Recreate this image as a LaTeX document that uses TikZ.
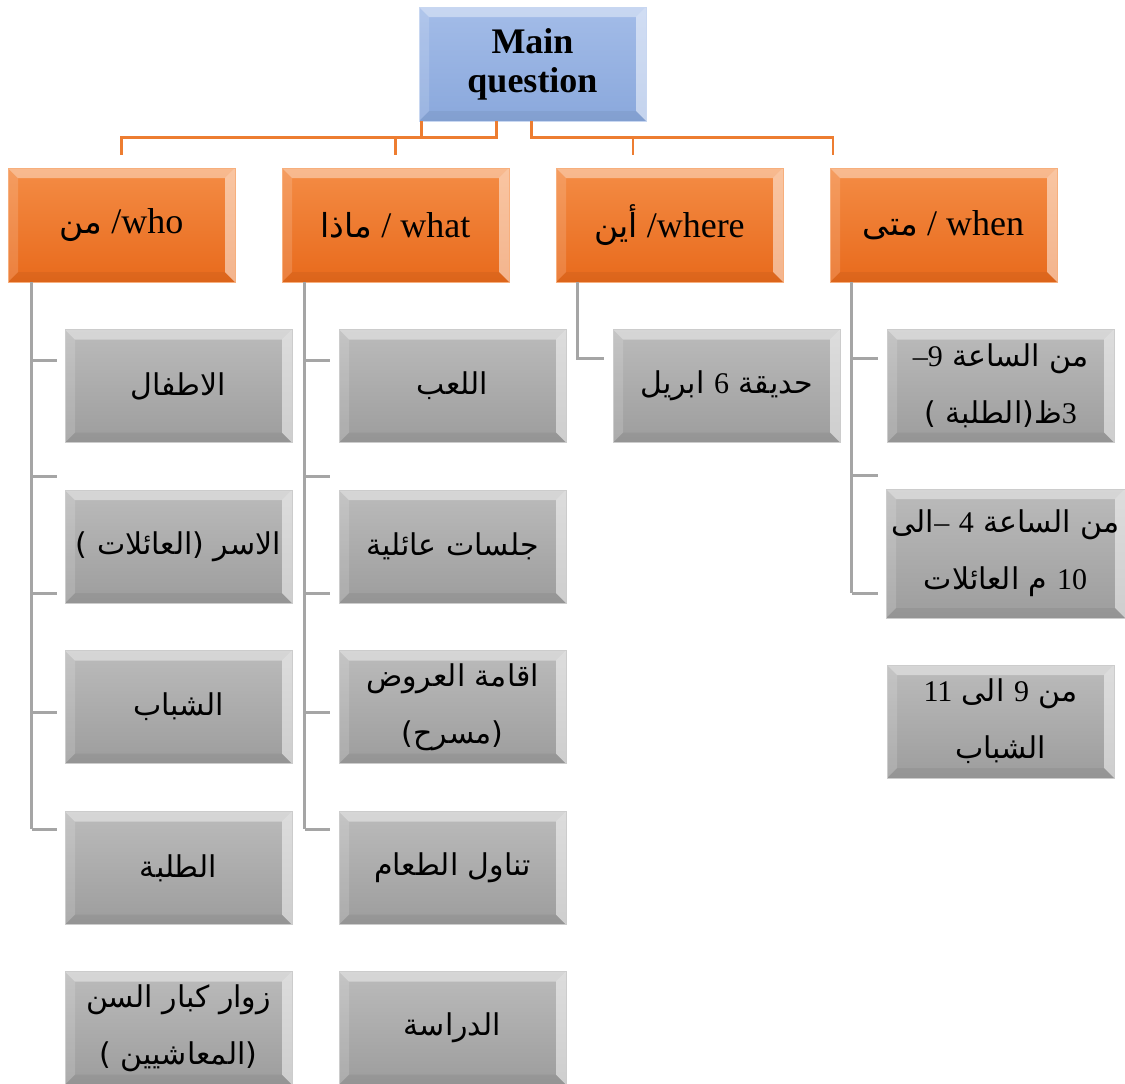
\documentclass[tikz,border=0pt]{standalone}
\usepackage{fontspec}
\setmainfont{Liberation Serif}
\newfontfamily\arfont[Script=Arabic]{DejaVu Sans}
\TeXXeTstate=1
\usetikzlibrary{positioning}

\definecolor{mainhi}{HTML}{A3BCE8}
\definecolor{mainlo}{HTML}{8AA8DC}
\definecolor{orghi}{HTML}{F48C45}
\definecolor{orglo}{HTML}{E86A1C}
\definecolor{grayhi}{HTML}{BBBBBB}
\definecolor{graylo}{HTML}{9D9D9D}
\definecolor{oline}{HTML}{ED7D31}
\definecolor{gline}{HTML}{A5A5A5}

\newcommand\ar[1]{{\arfont\beginR #1\endR}}
\newcommand\num[1]{{\rmfamily #1}}

\tikzset{
  bevel/.style={path picture={
    \fill[white,opacity=.4] (path picture bounding box.north west) -- (path picture bounding box.north east)
      -- ([shift={(-10pt,-10pt)}]path picture bounding box.north east) -- ([shift={(10pt,-10pt)}]path picture bounding box.north west) -- cycle;
    \fill[white,opacity=.5] (path picture bounding box.north east) -- (path picture bounding box.south east)
      -- ([shift={(-10pt,10pt)}]path picture bounding box.south east) -- ([shift={(-10pt,-10pt)}]path picture bounding box.north east) -- cycle;
    \fill[white,opacity=.15] (path picture bounding box.north west) -- (path picture bounding box.south west)
      -- ([shift={(10pt,10pt)}]path picture bounding box.south west) -- ([shift={(10pt,-10pt)}]path picture bounding box.north west) -- cycle;
    \fill[black,opacity=.05] (path picture bounding box.south west) -- (path picture bounding box.south east)
      -- ([shift={(-10pt,10pt)}]path picture bounding box.south east) -- ([shift={(10pt,10pt)}]path picture bounding box.south west) -- cycle;
  }},
  box/.style={rectangle, minimum width=227pt, minimum height=114pt, inner sep=2pt, align=center, bevel},
  mainbox/.style={box, top color=mainhi, bottom color=mainlo, draw=mainhi!60!white, line width=.8pt,
    font=\fontsize{36}{39}\selectfont\bfseries},
  qbox/.style={box, top color=orghi, bottom color=orglo, draw=orghi!70!white, line width=.8pt,
    font=\fontsize{36}{40}\selectfont},
  itembox/.style={box, minimum height=113pt, top color=grayhi, bottom color=graylo, draw=gray!40, line width=.8pt,
    font=\fontsize{30}{57}\selectfont},
  orgline/.style={draw=oline, line width=2.6pt},
  grline/.style={draw=gline, line width=3pt},
}

\begin{document}
\begin{tikzpicture}[x=1pt, y=-1pt]
  \useasboundingbox (0,0) rectangle (1125,1084);

  % main question
  \node (main) [mainbox] at (532.5,64) {Main\\question};

  % question words
  \node (who)   [qbox] at (121.5,225) {{\arfont\fontsize{33}{40}\selectfont من} /who};
  \node (what)  [qbox] at (395.5,225) {{\arfont\fontsize{33}{40}\selectfont ماذا} / what};
  \node (where) [qbox] at (669.5,225) {{\arfont\fontsize{33}{40}\selectfont أين} /where};
  \node (when)  [qbox] at (943.5,225) {{\arfont\fontsize{33}{40}\selectfont متى} / when};

  % who
  \node (who1) [itembox] at (178.5,386)  {\ar{الاطفال}};
  \node (who2) [itembox] at (178.5,546.5) {\ar{الاسر \hbox{(}العائلات \hbox{)}}};
  \node (who3) [itembox] at (178.5,707)  {\ar{الشباب}};
  \node (who4) [itembox] at (178.5,868)  {\ar{الطلبة}};
  \node (who5) [itembox] at (178.5,1028) {\ar{زوار كبار السن}\\\ar{\hbox{(}المعاشيين \hbox{)}}};

  % what
  \node (what1) [itembox] at (452.5,386)  {\ar{اللعب}};
  \node (what2) [itembox] at (452.5,546.5) {\ar{جلسات عائلية}};
  \node (what3) [itembox] at (452.5,707)  {\ar{اقامة العروض}\\\ar{\hbox{(}مسرح\hbox{)}}};
  \node (what4) [itembox] at (452.5,868)  {\ar{تناول الطعام}};
  \node (what5) [itembox] at (452.5,1028) {\ar{الدراسة}};

  % where
  \node (where1) [itembox] at (726.5,386) {\ar{حديقة \num{6} ابريل}};

  % when
  \node (when1) [itembox] at (1000.5,386) {\ar{من الساعة \num{–9}}\\\ar{\num{3}ظ\hbox{(}الطلبة \hbox{)}}};
  \node (when2) [itembox, minimum width=239pt, minimum height=129pt] at (1005.5,553.5)
    {\ar{من الساعة \num{4} \num{–}الى}\\\ar{\num{10} م العائلات}};
  \node (when3) [itembox] at (1000.5,721.5) {\ar{من \num{9} الى \num{11}}\\\ar{الشباب}};

  % orange connectors
  \draw[orgline] ([xshift=3pt]main.south west) -- ++(0,16) coordinate (jl) -| ([yshift=13pt]who.north);
  \draw[orgline] (jl) -| ([xshift=78pt]main.south west);
  \draw[orgline] (what.north |- jl) -- ([yshift=13pt]what.north);
  \draw[orgline] ([xshift=113pt]main.south west) -- ++(0,16) coordinate (jr) -| ([xshift=-110.5pt,yshift=13pt]when.north);
  \draw[orgline] (633,0 |- jr) -- ([xshift=-36.5pt,yshift=13pt]where.north);

  % gray connectors
  \draw[grline] ([xshift=24pt]who.south west) -- ([xshift=24pt]who.south west |- 0,829);
  \draw[grline] ([xshift=23pt]what.south west) -- ([xshift=23pt]what.south west |- 0,829);
  \foreach \ty in {360,476,593,712,829} {
    \draw[grline] (32,\ty) -- (57,\ty);
    \draw[grline] (305,\ty) -- (330,\ty);
  }
  \draw[grline] ([xshift=22pt]where.south west) |- ([xshift=-9pt]where1.west |- 0,358);
  \draw[grline] ([xshift=22pt]when.south west) -- ([xshift=22pt]when.south west |- 0,593);
  \foreach \ty in {358,475,593}
    \draw[grline] (852,\ty) -- (878,\ty);
\end{tikzpicture}
\end{document}
